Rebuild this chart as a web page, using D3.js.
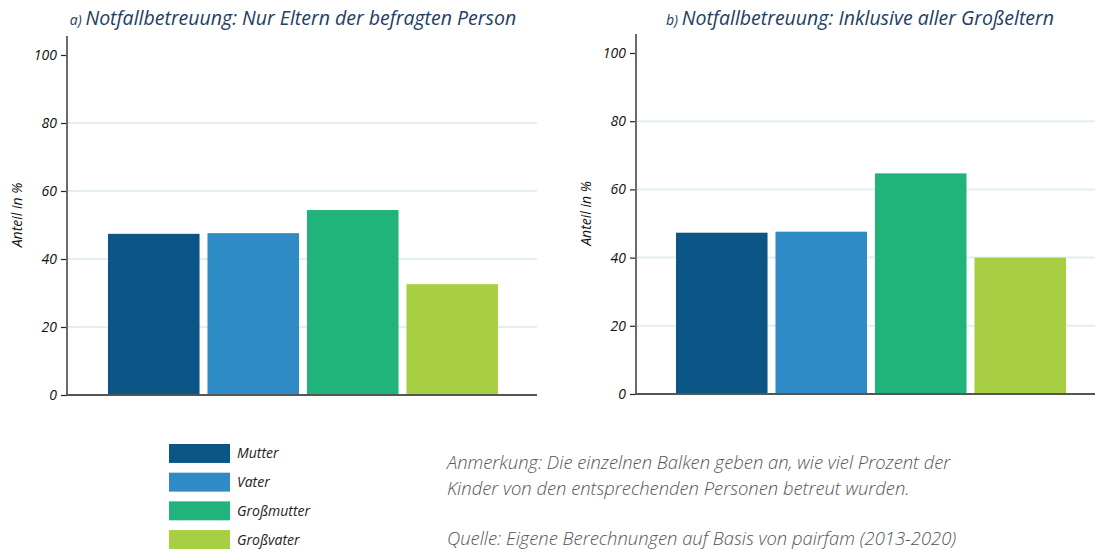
<!DOCTYPE html>
<html>
<head>
<meta charset="utf-8">
<script src="https://cdn.jsdelivr.net/npm/d3@7"></script>
<style>
  body { margin: 0; background: #fff; }
  svg { display: block; font-family: "Open Sans", "Lato", sans-serif; }
</style>
</head>
<body>
<div id="chart"></div>
<script>
// data
var categories = ["Mutter", "Vater", "Großmutter", "Großvater"];
var colors = ["#0b5686", "#2e8bc5", "#20b47a", "#a8cf44"];
var valuesA = [47.4, 47.6, 54.4, 32.6];
var valuesB = [47.3, 47.6, 64.7, 40.0];
var yTicks = [0, 20, 40, 60, 80, 100];
var gridTicks = [20, 40, 60, 80];

var w = 1095, h = 549;

var svg = d3.select("#chart").append("svg")
  .attr("width", w)
  .attr("height", h)

function panel(values, o) {
  var g = svg.append("g")

  var x = d3.scaleBand()
    .domain(categories)
    .range([o.barLeft, o.barRight])
    .paddingInner(0.08)
    .paddingOuter(0)

  var y = d3.scaleLinear()
    .domain([0, 100])
    .range([o.bottom, o.top])

  // grid lines
  g.selectAll(".grid")
    .data(gridTicks)
    .enter()
      .append("line")
        .attr("x1", o.axisX)
        .attr("x2", o.right)
        .attr("y1", function(d){ return y(d) })
        .attr("y2", function(d){ return y(d) })
        .attr("stroke", "#e2eeef")
        .attr("stroke-width", 2)

  g.selectAll("rect")
    .data(values)
    .enter()
      .append("rect")
        .attr("x", function(d, i){ return x(categories[i]) })
        .attr("y", function(d){ return y(d) })
        .attr("width", x.bandwidth())
        .attr("height", function(d){ return y(0) - y(d) })
        .attr("fill", function(d, i){ return colors[i] })

  // y axis
  var yAxis = g.append("g")
    .attr("transform", "translate(" + o.axisX + ",0)")
    .call(d3.axisLeft(y).tickValues(yTicks).tickSize(6).tickPadding(4))
  yAxis.attr("font-size", null).attr("font-family", null)
  yAxis.select(".domain").remove()
  yAxis.selectAll(".tick line").attr("stroke", "#222").attr("stroke-width", 1.2)
  yAxis.selectAll("text")
    .style("font-size", "14px")
    .style("font-style", "italic")
    .attr("fill", "#111")

  g.append("line")
    .attr("x1", o.axisX).attr("x2", o.axisX)
    .attr("y1", o.axisTop).attr("y2", o.bottom + 1)
    .attr("stroke", "#6b6b6b")
    .attr("stroke-width", 2)

  // x axis baseline
  g.append("line")
    .attr("x1", o.axisX - 1).attr("x2", o.right)
    .attr("y1", o.bottom).attr("y2", o.bottom)
    .attr("stroke", "#555")
    .attr("stroke-width", 2)

  g.append("text")
    .attr("transform", "translate(" + o.labelX + "," + ((o.top + o.bottom) / 2 - 10) + ") rotate(-90)")
    .attr("text-anchor", "middle")
    .style("font-size", "14px")
    .style("font-style", "italic")
    .attr("fill", "#111")
    .text("Anteil in %")

  var t = g.append("text")
    .attr("x", o.titleX)
    .attr("y", 25)
    .attr("text-anchor", "middle")
    .style("font-style", "italic")
    .attr("fill", "#233d63")
  t.append("tspan").style("font-size", "14px").text(o.letter + ") ")
  t.append("tspan").style("font-size", "19.5px").text(o.title)
}

panel(valuesA, {
  axisX: 67, right: 537, barLeft: 108, barRight: 498,
  top: 55, bottom: 395, axisTop: 36, labelX: 22, titleX: 293,
  letter: "a", title: "Notfallbetreuung: Nur Eltern der befragten Person"
})

panel(valuesB, {
  axisX: 636, right: 1095, barLeft: 676, barRight: 1066,
  top: 53, bottom: 394, axisTop: 34, labelX: 591, titleX: 860,
  letter: "b", title: "Notfallbetreuung: Inklusive aller Großeltern"
})

// legend
var legend = svg.append("g")
var ly = d3.scaleBand()
  .domain(categories)
  .range([444, 549])
  .paddingInner(0.34)
  .paddingOuter(0)

legend.selectAll("rect")
  .data(categories)
  .enter()
    .append("rect")
      .attr("x", 169)
      .attr("y", function(d){ return ly(d) })
      .attr("width", 61)
      .attr("height", ly.bandwidth())
      .attr("fill", function(d, i){ return colors[i] })

legend.selectAll("text")
  .data(categories)
  .enter()
    .append("text")
      .attr("x", 237)
      .attr("y", function(d){ return ly(d) + ly.bandwidth() / 2 + 5 })
      .style("font-size", "14px")
      .style("font-style", "italic")
      .attr("fill", "#222")
      .text(function(d){ return d })

// notes
var notes = [
  {text: "Anmerkung: Die einzelnen Balken geben an, wie viel Prozent der", y: 469},
  {text: "Kinder von den entsprechenden Personen betreut wurden.", y: 495},
  {text: "Quelle: Eigene Berechnungen auf Basis von pairfam (2013-2020)", y: 545}
]
svg.selectAll(".note")
  .data(notes)
  .enter()
    .append("text")
      .attr("x", 447)
      .attr("y", function(d){ return d.y })
      .style("font-size", "18.4px")
      .style("font-style", "italic")
      .style("font-weight", 300)
      .attr("fill", "#555")
      .text(function(d){ return d.text })
</script>
</body>
</html>
